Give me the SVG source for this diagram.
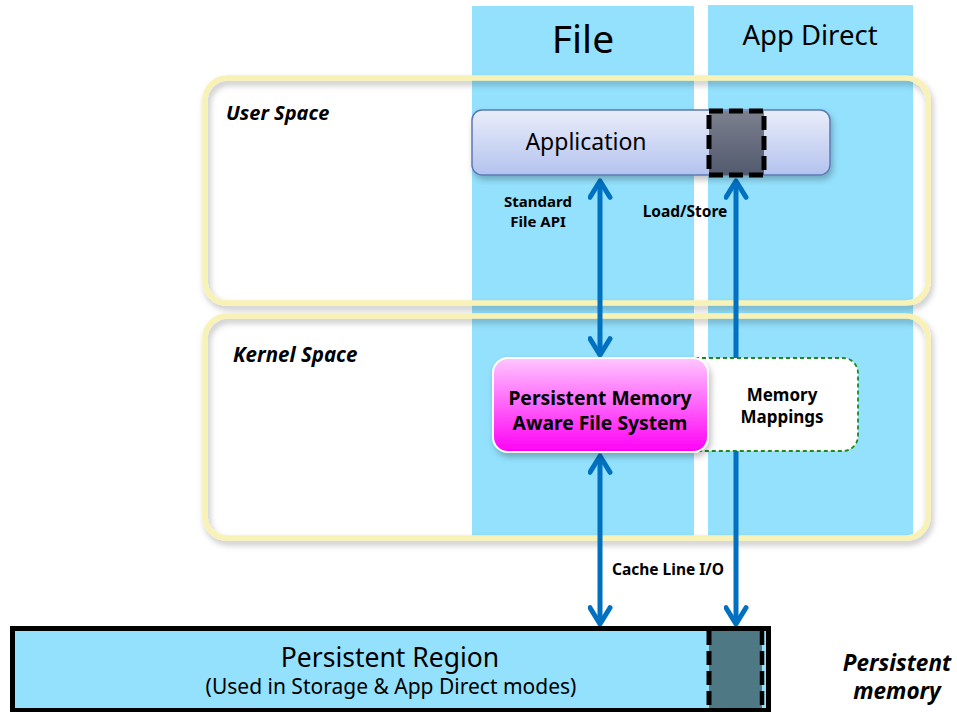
<svg xmlns="http://www.w3.org/2000/svg" width="957" height="712" viewBox="0 0 957 712">
  <style>
    .col { fill: #93E1FD; }
    .space { fill: none; stroke: #F9F2B6; stroke-width: 5.5; }
    .lbl { font-family: "Noto Sans", "Open Sans", sans-serif; fill: #000; }
    .b { font-weight: bold; }
    .bi { font-weight: bold; font-style: italic; }
    .wire { stroke: #0070C0; stroke-width: 5; fill: none; }
  </style>
  <defs>
    <linearGradient id="appGrad" x1="0" y1="0" x2="0" y2="1">
      <stop offset="0" stop-color="#EAEEFA"/>
      <stop offset="1" stop-color="#B3C2EE"/>
    </linearGradient>
    <linearGradient id="darkGrad" x1="0" y1="0" x2="0" y2="1">
      <stop offset="0" stop-color="#7C808E"/>
      <stop offset="1" stop-color="#525A6E"/>
    </linearGradient>
    <linearGradient id="fsGrad" x1="0" y1="0" x2="0" y2="1">
      <stop offset="0" stop-color="#FFC6FF"/>
      <stop offset="1" stop-color="#FF00F5"/>
    </linearGradient>
    <filter id="shadow" x="-5%" y="-10%" width="110%" height="125%">
      <feDropShadow dx="2" dy="4" stdDeviation="3" flood-color="#000" flood-opacity="0.25"/>
    </filter>
    <marker id="head" viewBox="0 0 20 20" refX="17" refY="10" markerWidth="5" markerHeight="5" markerUnits="strokeWidth" orient="auto-start-reverse">
      <path d="M4,2 L17,10 L4,18" fill="none" stroke="#0070C0" stroke-width="4" stroke-linecap="round" stroke-linejoin="round"/>
    </marker>
  </defs>

  <rect width="957" height="712" fill="#FFFFFF"/>

  <!-- mode columns -->
  <g id="col-file">
    <rect class="col" x="472" y="6" width="222" height="530"/>
    <text class="lbl" x="583" y="53" font-size="39" text-anchor="middle">File</text>
  </g>
  <g id="col-appdirect">
    <rect class="col" x="708" y="5" width="205" height="531"/>
    <text class="lbl" x="810" y="45" font-size="27.5" text-anchor="middle">App Direct</text>
  </g>

  <!-- address spaces -->
  <g id="user-space">
    <rect class="space" x="205" y="78" width="723" height="225" rx="22" filter="url(#shadow)"/>
    <text class="lbl bi" x="226" y="120" font-size="20">User Space</text>
  </g>
  <g id="kernel-space">
    <rect class="space" x="205" y="316" width="723" height="222" rx="22" filter="url(#shadow)"/>
    <text class="lbl bi" x="233" y="362" font-size="20.5">Kernel Space</text>
  </g>

  <!-- connectors -->
  <g id="connectors">
    <line class="wire" x1="600" y1="181" x2="600" y2="355" marker-start="url(#head)" marker-end="url(#head)"/>
    <line class="wire" x1="736" y1="181" x2="736" y2="624" marker-start="url(#head)" marker-end="url(#head)"/>
    <line class="wire" x1="600" y1="456" x2="600" y2="624" marker-start="url(#head)" marker-end="url(#head)"/>
    <text class="lbl b" x="538" y="207" font-size="15" text-anchor="middle">Standard</text>
    <text class="lbl b" x="538" y="227" font-size="15" text-anchor="middle">File API</text>
    <text class="lbl b" x="685" y="217" font-size="15.5" text-anchor="middle">Load/Store</text>
    <text class="lbl b" x="668" y="575" font-size="15.5" text-anchor="middle">Cache Line I/O</text>
  </g>

  <g id="application">
    <rect x="472" y="110" width="358" height="65" rx="10" fill="url(#appGrad)" stroke="#5B79B5" stroke-width="1.5" filter="url(#shadow)"/>
    <text class="lbl" x="586" y="150" font-size="23" text-anchor="middle">Application</text>
  </g>
  <g id="app-mapped-region">
    <rect x="709" y="111" width="55" height="64" fill="url(#darkGrad)" stroke="#000" stroke-width="5" stroke-dasharray="14 6"/>
  </g>

  <g id="memory-mappings">
    <rect x="680" y="358" width="178" height="93" rx="15" fill="#FFFFFF" stroke="#1E8A1E" stroke-width="1.8" stroke-dasharray="4 3"/>
    <text class="lbl b" x="782" y="401" font-size="17" text-anchor="middle">Memory</text>
    <text class="lbl b" x="782" y="423" font-size="17" text-anchor="middle">Mappings</text>
  </g>

  <g id="pmem-fs">
    <rect x="493" y="358" width="215" height="94" rx="15" fill="url(#fsGrad)" stroke="#FFFFFF" stroke-width="2" filter="url(#shadow)"/>
    <text class="lbl b" x="600" y="405" font-size="19.3" text-anchor="middle">Persistent Memory</text>
    <text class="lbl b" x="600" y="430" font-size="19.3" text-anchor="middle">Aware File System</text>
  </g>

  <g id="persistent-region">
    <rect x="12.5" y="628.5" width="756" height="82" fill="#93E1FD" stroke="#000" stroke-width="5"/>
    <rect x="709" y="631" width="53" height="77" fill="#4F7885"/>
    <line x1="709" y1="631" x2="709" y2="708" stroke="#000" stroke-width="5" stroke-dasharray="14 6"/>
    <line x1="762" y1="631" x2="762" y2="708" stroke="#000" stroke-width="4.5" stroke-dasharray="14 6"/>
    <text class="lbl" x="390" y="667" font-size="26.5" text-anchor="middle">Persistent Region</text>
    <text class="lbl" x="391" y="694" font-size="21" text-anchor="middle">(Used in Storage &amp; App Direct modes)</text>
  </g>

  <g id="pmem-label">
    <text class="lbl bi" x="897" y="671" font-size="22.5" text-anchor="middle">Persistent</text>
    <text class="lbl bi" x="897" y="699" font-size="22.5" text-anchor="middle">memory</text>
  </g>
</svg>
